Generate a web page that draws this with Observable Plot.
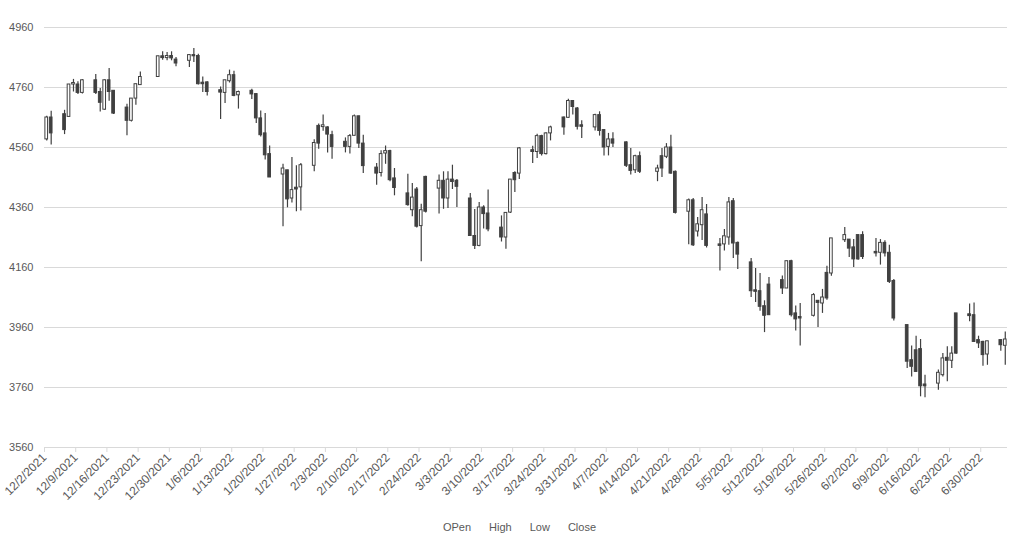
<!DOCTYPE html>
<html><head><meta charset="utf-8">
<script src="https://cdn.jsdelivr.net/npm/d3@7"></script>
<script src="https://cdn.jsdelivr.net/npm/@observablehq/plot@0.6"></script>
<style>
body{margin:0;background:#fff;font-family:"Liberation Sans",Arial,sans-serif;}
#legend{display:flex;justify-content:center;gap:18px;padding-left:19px;padding-top:6px;height:21px;align-items:center;font-size:11px;color:#595959;}
</style></head><body>
<div id="chart"></div>
<div id="legend"></div>
<script>
const dates = ["2021-12-02","2021-12-03","2021-12-06","2021-12-07","2021-12-08","2021-12-09","2021-12-10","2021-12-13","2021-12-14","2021-12-15","2021-12-16","2021-12-17","2021-12-20","2021-12-21","2021-12-22","2021-12-23","2021-12-27","2021-12-28","2021-12-29","2021-12-30","2021-12-31",
"2022-01-03","2022-01-04","2022-01-05","2022-01-06","2022-01-07","2022-01-10","2022-01-11","2022-01-12","2022-01-13","2022-01-14","2022-01-17","2022-01-18","2022-01-19","2022-01-20","2022-01-21","2022-01-24","2022-01-25","2022-01-26","2022-01-27","2022-01-28","2022-01-31",
"2022-02-01","2022-02-02","2022-02-03","2022-02-04","2022-02-07","2022-02-08","2022-02-09","2022-02-10","2022-02-11","2022-02-14","2022-02-15","2022-02-16","2022-02-17","2022-02-18","2022-02-21","2022-02-22","2022-02-23","2022-02-24","2022-02-25","2022-02-28",
"2022-03-01","2022-03-02","2022-03-03","2022-03-04","2022-03-07","2022-03-08","2022-03-09","2022-03-10","2022-03-11","2022-03-14","2022-03-15","2022-03-16","2022-03-17","2022-03-18","2022-03-21","2022-03-22","2022-03-23","2022-03-24","2022-03-25","2022-03-28","2022-03-29","2022-03-30","2022-03-31",
"2022-04-01","2022-04-04","2022-04-05","2022-04-06","2022-04-07","2022-04-08","2022-04-11","2022-04-12","2022-04-13","2022-04-14","2022-04-18","2022-04-19","2022-04-20","2022-04-21","2022-04-22","2022-04-25","2022-04-26","2022-04-27","2022-04-28","2022-04-29",
"2022-05-02","2022-05-03","2022-05-04","2022-05-05","2022-05-06","2022-05-09","2022-05-10","2022-05-11","2022-05-12","2022-05-13","2022-05-16","2022-05-17","2022-05-18","2022-05-19","2022-05-20","2022-05-23","2022-05-24","2022-05-25","2022-05-26","2022-05-27","2022-05-30","2022-05-31",
"2022-06-01","2022-06-02","2022-06-03","2022-06-06","2022-06-07","2022-06-08","2022-06-09","2022-06-10","2022-06-13","2022-06-14","2022-06-15","2022-06-16","2022-06-17","2022-06-20","2022-06-21","2022-06-22","2022-06-23","2022-06-24","2022-06-27","2022-06-28","2022-06-29","2022-06-30",
"2022-07-01","2022-07-04","2022-07-05"];
const open  = [4587,4660,4671,4662,4770,4770,4742,4784,4745,4686,4784,4749,4693,4649,4723,4768,4795,4864,4858,4865,4853,
4849,4868,4865,4776,4777,4751,4742,4781,4801,4734,4749,4738,4657,4607,4538,4470,4484,4390,4426,4427,4499,
4632,4628,4627,4601,4579,4562,4599,4664,4573,4493,4475,4540,4548,4457,4407,4351,4420,4298,4462,4423,
4449,4390,4453,4449,4390,4265,4232,4360,4340,4293,4260,4343,4475,4473,4551,4545,4598,4538,4607,4660,4659,4715,4690,
4634,4627,4668,4618,4562,4587,4577,4501,4484,4531,4479,4531,4529,4560,4479,4346,4384,4280,4301,4337,
4237,4237,4260,4381,4242,4177,4084,4081,4031,4103,4118,4090,4181,4007,3995,3999,4049,4040,4142,4140,4251,4253,
4227,4268,4268,4212,4209,4242,4209,4115,3968,3851,3884,3888,3770,3773,3801,3859,3849,4007,4004,4001,3918,3912,
3870,3918,3899];
const high  = [4664,4681,4684,4770,4787,4779,4787,4803,4757,4786,4823,4749,4704,4723,4771,4812,4864,4879,4877,4879,4860,
4870,4890,4871,4795,4779,4762,4784,4818,4814,4748,4754,4740,4682,4673,4565,4504,4484,4527,4499,4507,4586,
4638,4668,4629,4614,4592,4603,4668,4664,4601,4507,4549,4565,4551,4490,4471,4440,4427,4371,4464,4468,
4479,4479,4501,4453,4407,4353,4377,4366,4418,4332,4342,4453,4479,4560,4564,4604,4601,4609,4631,4662,4721,4715,4693,
4649,4671,4679,4620,4607,4609,4579,4557,4534,4545,4501,4557,4573,4601,4482,4388,4390,4327,4393,4370,
4257,4287,4393,4390,4245,4190,4157,4140,4049,4127,4132,4181,4184,4032,4040,4073,4049,4087,4164,4257,4293,4253,
4253,4268,4279,4257,4253,4249,4234,4120,3968,3898,3931,3920,3801,3818,3873,3896,3896,4007,4038,4042,3931,3914,
3914,3918,3945];
const low   = [4582,4568,4603,4660,4745,4737,4738,4737,4678,4684,4714,4670,4599,4645,4701,4768,4793,4851,4849,4849,4829,
4827,4843,4768,4743,4732,4653,4707,4775,4729,4688,4720,4640,4595,4518,4460,4296,4359,4375,4346,4348,4479,
4554,4614,4542,4521,4542,4538,4598,4557,4473,4434,4462,4504,4446,4399,4364,4329,4292,4179,4342,4338,
4354,4357,4420,4360,4265,4220,4229,4288,4279,4245,4221,4340,4410,4453,4507,4523,4532,4535,4582,4601,4657,4668,4618,
4590,4615,4598,4532,4532,4560,4493,4468,4473,4473,4446,4460,4523,4471,4338,4236,4230,4262,4250,4225,
4148,4215,4234,4190,4153,4060,4043,4014,3943,4001,4070,4090,3995,3948,3898,3995,3960,4007,4051,4131,4243,4193,
4160,4184,4187,4195,4168,4195,4107,3982,3823,3795,3810,3729,3726,3751,3795,3779,3823,3871,3979,3910,3890,3831,
3834,3881,3834];
const close = [4660,4607,4618,4770,4775,4742,4784,4742,4709,4784,4745,4673,4649,4723,4771,4795,4864,4858,4865,4857,4840,
4868,4864,4771,4771,4745,4743,4784,4801,4732,4745,4737,4657,4601,4534,4460,4490,4387,4418,4420,4501,4575,
4573,4634,4603,4562,4562,4598,4664,4573,4498,4473,4538,4548,4451,4425,4368,4393,4296,4351,4346,4449,
4390,4453,4445,4429,4265,4232,4360,4338,4287,4260,4342,4453,4451,4557,4545,4598,4538,4607,4627,4627,4715,4695,4629,
4629,4668,4615,4560,4587,4573,4499,4482,4531,4479,4490,4490,4560,4473,4342,4384,4234,4304,4351,4232,
4232,4264,4377,4240,4203,4081,4079,4029,3999,4001,4090,4181,4001,3987,3990,4068,4042,4060,4057,4257,4268,4223,
4187,4187,4195,4207,4242,4207,4112,3990,3846,3829,3812,3764,3764,3809,3857,3849,3873,3873,3998,3912,3907,3868,
3914,3901,3920];
const tickLabels = ["12/2/2021","12/9/2021","12/16/2021","12/23/2021","12/30/2021","1/6/2022","1/13/2022","1/20/2022","1/27/2022","2/3/2022","2/10/2022","2/17/2022","2/24/2022","3/3/2022","3/10/2022","3/17/2022","3/24/2022","3/31/2022","4/7/2022","4/14/2022","4/21/2022","4/28/2022","5/5/2022","5/12/2022","5/19/2022","5/26/2022","6/2/2022","6/9/2022","6/16/2022","6/23/2022","6/30/2022"];
const yTicks = [3560,3760,3960,4160,4360,4560,4760,4960];
const legendLabels = ["OPen","High","Low","Close"];

const DAY = 86400000;
const parseLabel = s => { const [m,d,y] = s.split("/").map(Number); return new Date(Date.UTC(y, m-1, d)); };
const tickDates = tickLabels.map(parseLabel);
const labelOf = new Map(tickDates.map((d,i)=>[+d, tickLabels[i]]));
const rows = dates.map((s,i)=>{
  const t = +new Date(s + "T00:00:00Z");
  return {mid:new Date(t+0.5*DAY), left:new Date(t+0.2*DAY), right:new Date(t+0.8*DAY),
          open:open[i], high:high[i], low:low[i], close:close[i]};
});
const up = rows.filter(d=>d.close>=d.open);
const down = rows.filter(d=>d.close<d.open);
const ink = "#404040";

const chart = Plot.plot({
  width: 1020, height: 510,
  marginLeft: 44, marginRight: 13, marginTop: 27, marginBottom: 63,
  x: {type: "utc", domain: [new Date(Date.UTC(2021,11,2)), new Date(Date.UTC(2022,6,6))]},
  y: {domain: [3560, 4960]},
  style: {fontFamily: "'Liberation Sans', Arial, sans-serif", fontSize: "11px", color: "#595959", background: "white", overflow: "visible"},
  marks: [
    Plot.gridY(yTicks, {stroke: "#d9d9d9", strokeOpacity: 1}),
    Plot.axisY(yTicks, {tickSize: 0, tickPadding: 11, tickFormat: d => String(d), fill: "#595959"}),
    Plot.axisX(tickDates, {tickSize: 5, tickRotate: -45, tickPadding: 3, tickFormat: d => labelOf.get(+d), stroke: "#d9d9d9", strokeOpacity: 1, fill: "#595959", fontSize: 12}),
    Plot.ruleY([3560], {stroke: "#d9d9d9"}),
    Plot.ruleX(rows, {x: "mid", y1: "low", y2: "high", stroke: ink, strokeWidth: 1.2}),
    Plot.rect(up, {x1: "left", x2: "right", y1: "open", y2: "close", fill: "white", stroke: ink, strokeWidth: 1}),
    Plot.rect(down, {x1: "left", x2: "right", y1: "open", y2: "close", fill: ink, stroke: ink, strokeWidth: 1})
  ]
});
document.getElementById("chart").appendChild(chart);
const lg = document.getElementById("legend");
legendLabels.forEach(t => { const s = document.createElement("span"); s.textContent = t; lg.appendChild(s); });
</script>
</body></html>
